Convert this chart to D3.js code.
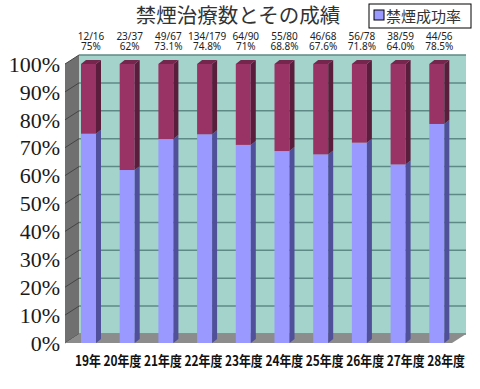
<!DOCTYPE html>
<html>
<head>
<meta charset="utf-8">
<script src="https://cdn.jsdelivr.net/npm/d3@7"></script>
<style>
  body { margin: 0; background: #fff; }
</style>
</head>
<body>
<div class="chart"></div>
<script>
const categories = ["19年", "20年度", "21年度", "22年度", "23年度", "24年度", "25年度", "26年度", "27年度", "28年度"];
const counts = ["12/16", "23/37", "49/67", "134/179", "64/90", "55/80", "46/68", "56/78", "38/59", "44/56"];
const pctLabels = ["75%", "62%", "73.1%", "74.8%", "71%", "68.8%", "67.6%", "71.8%", "64.0%", "78.5%"];
const rates = [75, 62, 73.1, 74.8, 71, 68.8, 67.6, 71.8, 64.0, 78.5];
const yTicks = [0, 10, 20, 30, 40, 50, 60, 70, 80, 90, 100];

const w = 480;
const h = 389;
const depthX = 14, depthY = 9;   // wall depth
const barDX = 5, barDY = 4;      // bar depth

const svg = d3.select(".chart")
    .append("svg")
    .attr("width", w)
    .attr("height", h);

// front plane scales
const y = d3.scaleLinear().domain([0, 100]).range([343, 64]);
const x = d3.scaleBand()
    .domain(categories)
    .range([65, 460.3])
    .paddingInner(0.6124)
    .paddingOuter(0.4134);

const x0 = 65, x1 = 452;

// back wall
svg.append("rect")
    .attr("x", x0 + depthX)
    .attr("y", y(100) - depthY)
    .attr("width", x1 - x0)
    .attr("height", y(0) - y(100))
    .attr("fill", "#a3d3cb");

svg.selectAll(".grid")
    .data(yTicks)
    .enter()
    .append("line")
    .attr("x1", x0 + depthX)
    .attr("x2", x1 + depthX)
    .attr("y1", d => y(d) - depthY)
    .attr("y2", d => y(d) - depthY)
    .attr("stroke", "#5e8a86")
    .attr("stroke-width", 1.5);

// left wall
svg.append("path")
    .attr("d", `M${x0},${y(100)} L${x0 + depthX},${y(100) - depthY} L${x0 + depthX},${y(0) - depthY} L${x0},${y(0)} Z`)
    .attr("fill", "#707070");

svg.selectAll(".lgrid")
    .data(yTicks)
    .enter()
    .append("line")
    .attr("x1", x0)
    .attr("y1", d => y(d))
    .attr("x2", x0 + depthX)
    .attr("y2", d => y(d) - depthY)
    .attr("stroke", "#444")
    .attr("stroke-width", 1);

// floor
svg.append("path")
    .attr("d", `M${x0},${y(0)} L${x0 + depthX},${y(0) - depthY} L${x1 + depthX},${y(0) - depthY} L${x1},${y(0)} Z`)
    .attr("fill", "#8c8c8c");

// bars
const bw = x.bandwidth();
const bars = svg.selectAll(".bar")
    .data(categories)
    .enter()
    .append("g");

function side(xr, yt, yb) {
    return `M${xr},${yt} L${xr + barDX},${yt - barDY} L${xr + barDX},${yb - barDY} L${xr},${yb} Z`;
}

// purple front + side
bars.append("rect")
    .attr("x", d => x(d))
    .attr("y", (d, i) => y(rates[i]))
    .attr("width", bw)
    .attr("height", (d, i) => y(0) - y(rates[i]))
    .attr("fill", "#9999ff");
bars.append("path")
    .attr("d", (d, i) => side(x(d) + bw, y(rates[i]), y(0)))
    .attr("fill", "#4f4f9a");

// crimson front + side + top
bars.append("rect")
    .attr("x", d => x(d))
    .attr("y", y(100))
    .attr("width", bw)
    .attr("height", (d, i) => y(rates[i]) - y(100))
    .attr("fill", "#993366");
bars.append("path")
    .attr("d", (d, i) => side(x(d) + bw, y(100), y(rates[i])))
    .attr("fill", "#5a1d3b");
bars.append("path")
    .attr("d", d => `M${x(d)},${y(100)} L${x(d) + barDX},${y(100) - barDY} L${x(d) + bw + barDX},${y(100) - barDY} L${x(d) + bw},${y(100)} Z`)
    .attr("fill", "#74264d");

// value labels above bars
svg.selectAll(".cnt")
    .data(counts)
    .enter()
    .append("text")
    .attr("x", (d, i) => x(categories[i]) + bw / 2 + 2.5)
    .attr("y", 39.5)
    .attr("text-anchor", "middle")
    .attr("font-family", "Noto Sans, sans-serif")
    .attr("font-size", 10)
    .attr("fill", "#222")
    .text(d => d);

svg.selectAll(".pct")
    .data(pctLabels)
    .enter()
    .append("text")
    .attr("x", (d, i) => x(categories[i]) + bw / 2 + 2.5)
    .attr("y", 50)
    .attr("text-anchor", "middle")
    .attr("font-family", "Noto Sans, sans-serif")
    .attr("font-size", 10)
    .attr("fill", "#222")
    .text(d => d);

// y axis labels
svg.selectAll(".ylab")
    .data(yTicks)
    .enter()
    .append("text")
    .attr("x", 60)
    .attr("y", d => y(d))
    .attr("dy", "0.35em")
    .attr("text-anchor", "end")
    .attr("font-family", "Liberation Serif, serif")
    .attr("font-size", 22)
    .attr("fill", "#1a1a1a")
    .text(d => d + "%");

// x axis labels (one line of text)
svg.append("text")
    .attr("x", 75)
    .attr("y", 366)
    .attr("textLength", 390)
    .attr("lengthAdjust", "spacingAndGlyphs")
    .attr("font-family", "Noto Sans CJK JP, sans-serif")
    .attr("font-weight", "bold")
    .attr("font-size", 14)
    .attr("fill", "#111")
    .text(categories.join(" "));

// title
svg.append("text")
    .attr("x", 238)
    .attr("y", 23)
    .attr("text-anchor", "middle")
    .attr("font-family", "Noto Sans CJK JP, sans-serif")
    .attr("font-size", 20.5)
    .attr("fill", "#333")
    .text("禁煙治療数とその成績");

// legend
svg.append("rect")
    .attr("x", 369)
    .attr("y", 4)
    .attr("width", 102)
    .attr("height", 24)
    .attr("fill", "#fff")
    .attr("stroke", "#000")
    .attr("stroke-width", 1);
svg.append("rect")
    .attr("x", 374)
    .attr("y", 10)
    .attr("width", 10)
    .attr("height", 10)
    .attr("fill", "#9999ff")
    .attr("stroke", "#000")
    .attr("stroke-width", 1);
svg.append("text")
    .attr("x", 386)
    .attr("y", 22)
    .attr("font-family", "Noto Sans CJK JP, sans-serif")
    .attr("font-size", 15)
    .attr("fill", "#333")
    .text("禁煙成功率");
</script>
</body>
</html>
